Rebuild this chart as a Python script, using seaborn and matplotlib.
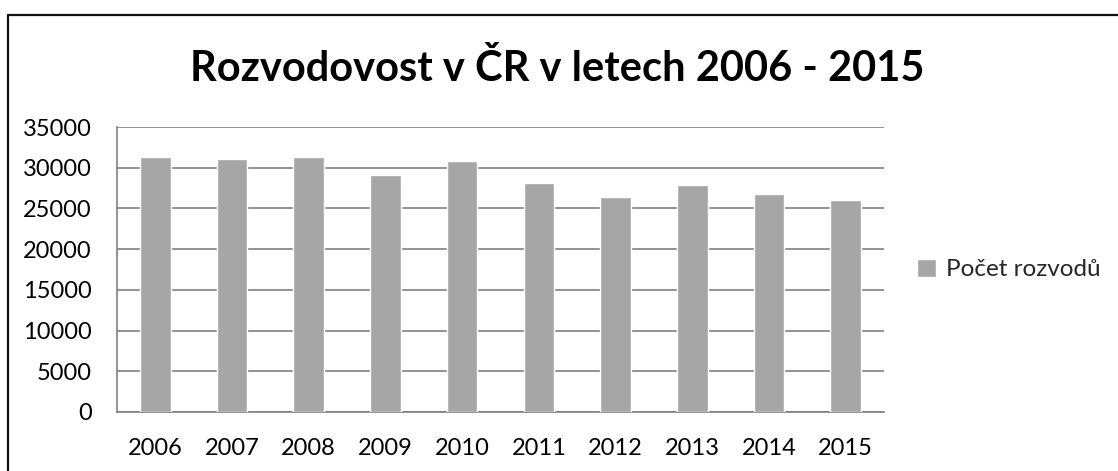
import matplotlib
matplotlib.use("Agg")
import matplotlib.pyplot as plt
import seaborn as sns
import pandas as pd
from matplotlib.lines import Line2D

years = ["2006", "2007", "2008", "2009", "2010", "2011", "2012", "2013", "2014", "2015"]
divorces = [31300, 31130, 31300, 29130, 30780, 28110, 26400, 27890, 26760, 26080]
series_name = "Počet rozvodů"
title = "Rozvodovost v ČR v letech 2006 - 2015"
yticks = [0, 5000, 10000, 15000, 20000, 25000, 30000, 35000]

sns.set_theme(style="white")
plt.rcParams["font.family"] = ["Lato", "DejaVu Sans"]

df = pd.DataFrame({"year": years, "value": divorces})

fig = plt.figure(figsize=(11.18, 4.71), dpi=100)
ax = fig.add_axes([117 / 1118, 1 - 412 / 471, (884 - 117) / 1118, (412 - 127) / 471])

sns.barplot(data=df, x="year", y="value", color="#A6A6A6", width=0.4,
            saturation=1, label=series_name, ax=ax, zorder=3)

ax.set_ylim(0, 35000)
ax.set_yticks(yticks)
ax.set_yticklabels([str(t) for t in yticks])
ax.set_xlabel("")
ax.set_ylabel("")
ax.grid(axis="y", color="#808080", linewidth=1.2, zorder=0)
ax.grid(axis="x", visible=False)
ax.set_axisbelow(True)
for s in ["top", "right"]:
    ax.spines[s].set_visible(False)
for s in ["left", "bottom"]:
    ax.spines[s].set_color("#808080")
    ax.spines[s].set_linewidth(1.2)
ax.tick_params(axis="both", length=0, labelsize=17, colors="black")
ax.tick_params(axis="y", pad=18)
ax.tick_params(axis="x", pad=19)

leg = ax.legend(loc="center left", bbox_to_anchor=(1.014, 0.5), frameon=False,
                fontsize=17.5, handlelength=0.8, handleheight=0.8, handletextpad=0.4)

fig.text(0.498, 1 - 81 / 471, title, ha="center", va="baseline",
         fontsize=30, fontweight="bold", color="black")

# chart frame (top and left edges)
fig.add_artist(Line2D([8 / 1118, 1.0], [1 - 15 / 471, 1 - 15 / 471],
                      transform=fig.transFigure, color="#111111", linewidth=1.6))
fig.add_artist(Line2D([8 / 1118, 8 / 1118], [0.0, 1 - 15 / 471],
                      transform=fig.transFigure, color="#111111", linewidth=1.6))

fig.savefig("out.png", dpi=100, facecolor="white")
